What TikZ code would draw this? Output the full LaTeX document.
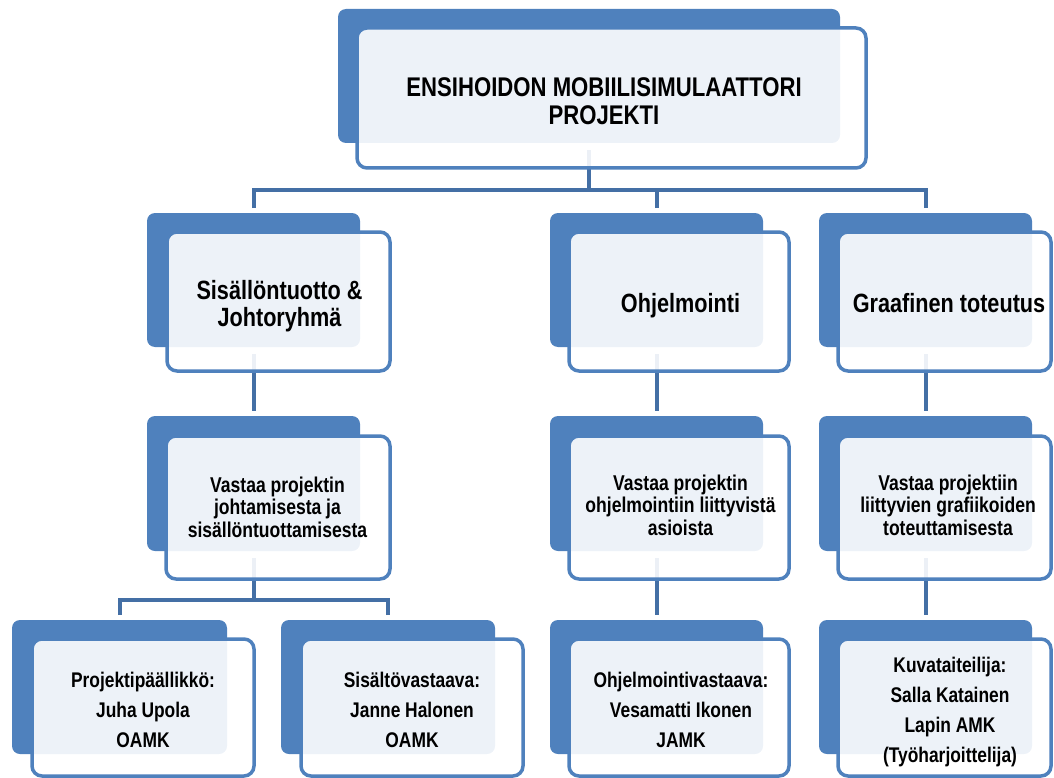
\documentclass[tikz,border=0pt]{standalone}
\usepackage{fontspec}
\setmainfont{Liberation Sans}[FakeStretch=0.82]
\usetikzlibrary{fit}
\definecolor{obblue}{RGB}{79,129,189}
\definecolor{obconn}{RGB}{68,111,165}
\pgfdeclarelayer{bg}
\pgfsetlayers{bg,main}
\begin{document}
\begin{tikzpicture}[x=1pt,y=-1pt,
  backbox/.style={fill=obblue, draw=none, rounded corners=8pt, inner sep=0pt, outer sep=0pt},
  frontbox/.style={draw=obblue, line width=3.5pt, fill=white, fill opacity=0.9, draw opacity=1, rounded corners=10pt, inner sep=0pt, outer sep=0pt},
  conn/.style={draw=obconn, line width=4pt},
  lbl/.style={align=center, inner sep=0pt, text=black},
  ttop/.style={lbl, font=\fontsize{27}{28}\selectfont\bfseries},
  ttwo/.style={lbl, font=\fontsize{26.4}{27}\selectfont\bfseries},
  tthree/.style={lbl, font=\fontsize{21.4}{22.5}\selectfont\bfseries},
  tfour/.style={lbl, font=\fontsize{21.2}{30}\selectfont\bfseries},
]
\useasboundingbox (0,0) rectangle (1054,778);

% ---- top
\node[backbox, fit={(338,9) (840,143)}] (top-b) {};
\node[frontbox, fit={(357,28) (866,168)}] (top-f) {};
\node[ttop] (top) at (604,101) {ENSIHOIDON MOBIILISIMULAATTORI\\PROJEKTI};

% ---- level 2
\node[backbox, fit={(147,213) (360,347)}] (a2-b) {};
\node[frontbox, fit={(167,232) (390,371)}] (a2-f) {};
\node[ttwo] (a2) at (279.5,306) {Sisällöntuotto \&\\Johtoryhmä};

\node[backbox, fit={(550,213) (763,347)}] (c2-b) {};
\node[frontbox, fit={(569,232) (789,371)}] (c2-f) {};
\node[ttwo] (c2) at (680.5,306) {Ohjelmointi};

\node[backbox, fit={(819,213) (1032,347)}] (d2-b) {};
\node[frontbox, fit={(838,232) (1051,371)}] (d2-f) {};
\node[ttwo] (d2) at (949,303) {Graafinen toteutus};

% ---- level 3
\node[backbox, fit={(147,416) (360,551)}] (a3-b) {};
\node[frontbox, fit={(166,436) (390,579)}] (a3-f) {};
\node[tthree] (a3) at (277.5,507) {Vastaa projektin\\johtamisesta ja\\sisällöntuottamisesta};

\node[backbox, fit={(550,416) (763,551)}] (c3-b) {};
\node[frontbox, fit={(569,436) (789,579)}] (c3-f) {};
\node[tthree] (c3) at (680.5,505) {Vastaa projektin\\ohjelmointiin liittyvistä\\asioista};

\node[backbox, fit={(819,416) (1032,551)}] (d3-b) {};
\node[frontbox, fit={(838,436) (1051,579)}] (d3-f) {};
\node[tthree] (d3) at (948,505) {Vastaa projektiin\\liittyvien grafiikoiden\\toteuttamisesta};

% ---- level 4
\node[backbox, fit={(12,620) (227,754)}] (a4-b) {};
\node[frontbox, fit={(32,639) (254,776)}] (a4-f) {};
\node[tfour] (a4) at (143,710) {Projektipäällikkö:\\Juha Upola\\OAMK};

\node[backbox, fit={(281,620) (495,754)}] (b4-b) {};
\node[frontbox, fit={(301,639) (523,776)}] (b4-f) {};
\node[tfour] (b4) at (412,710) {Sisältövastaava:\\Janne Halonen\\OAMK};

\node[backbox, fit={(550,620) (763,754)}] (c4-b) {};
\node[frontbox, fit={(569,639) (789,776)}] (c4-f) {};
\node[tfour] (c4) at (681,710) {Ohjelmointivastaava:\\Vesamatti Ikonen\\JAMK};

\node[backbox, fit={(819,620) (1032,754)}] (d4-b) {};
\node[frontbox, fit={(838,639) (1051,776)}] (d4-f) {};
\node[tfour] (d4) at (950,712) {Kuvataiteilija:\\Salla Katainen\\Lapin AMK\\(Työharjoittelija)};

% ---- connectors
\coordinate (bus1) at (0,190);
\coordinate (bus2) at (0,600);
\begin{pgfonlayer}{bg}
  \draw[conn] ([yshift=-7pt]top-b.south) -- (top-b.south |- bus1);
  \foreach \ch in {a2-b,c2-b,d2-b}
    \draw[conn] ([yshift=5pt]\ch.north) |- (top-b.south |- bus1);
  \draw[conn] ([yshift=-7pt]a2-b.south) -- ([yshift=5pt]a3-b.north);
  \draw[conn] ([yshift=-7pt]c2-b.south) -- ([yshift=5pt]c3-b.north);
  \draw[conn] ([yshift=-7pt]d2-b.south) -- ([yshift=5pt]d3-b.north);
  \draw[conn] ([yshift=-7pt]a3-b.south) -- (a3-b.south |- bus2);
  \foreach \ch in {a4-b,b4-b}
    \draw[conn] ([yshift=5pt]\ch.north) |- (a3-b.south |- bus2);
  \draw[conn] ([yshift=-7pt]c3-b.south) -- ([yshift=5pt]c4-b.north);
  \draw[conn] ([yshift=-7pt]d3-b.south) -- ([yshift=5pt]d4-b.north);
\end{pgfonlayer}
\end{tikzpicture}
\end{document}
